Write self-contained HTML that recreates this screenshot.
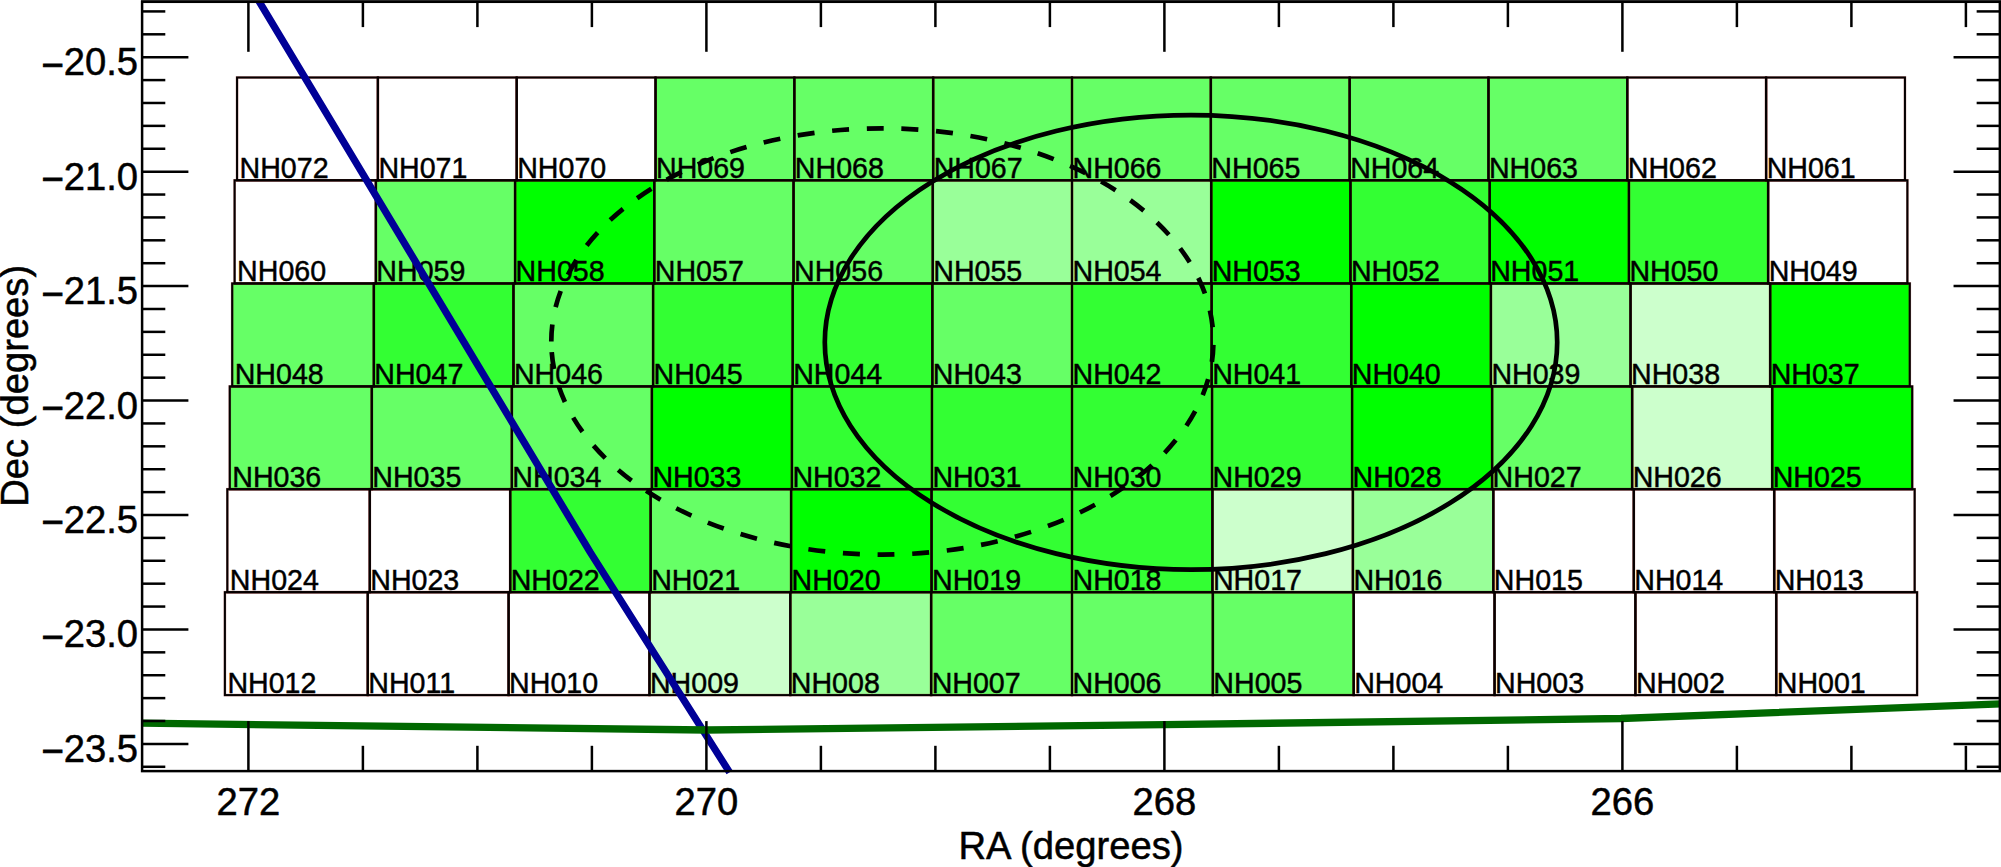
<!DOCTYPE html>
<html><head><meta charset="utf-8"><title>Field map</title>
<style>html,body{margin:0;padding:0;background:#fff;overflow:hidden}svg{display:block}</style>
</head><body>
<svg width="2001" height="867" viewBox="0 0 2001 867">
<rect width="2001" height="867" fill="#fff"/>
<rect x="655.52" y="77.50" width="138.83" height="102.80" fill="#66ff66"/>
<rect x="794.35" y="77.50" width="138.83" height="102.80" fill="#66ff66"/>
<rect x="933.17" y="77.50" width="138.83" height="102.80" fill="#66ff66"/>
<rect x="1072.00" y="77.50" width="138.82" height="102.80" fill="#66ff66"/>
<rect x="1210.82" y="77.50" width="138.83" height="102.80" fill="#66ff66"/>
<rect x="1349.65" y="77.50" width="138.82" height="102.80" fill="#66ff66"/>
<rect x="1488.47" y="77.50" width="138.83" height="102.80" fill="#66ff66"/>
<rect x="375.85" y="180.30" width="139.23" height="103.15" fill="#66ff66"/>
<rect x="515.08" y="180.30" width="139.23" height="103.15" fill="#00ff00"/>
<rect x="654.31" y="180.30" width="139.23" height="103.15" fill="#66ff66"/>
<rect x="793.54" y="180.30" width="139.23" height="103.15" fill="#66ff66"/>
<rect x="932.77" y="180.30" width="139.23" height="103.15" fill="#99ff99"/>
<rect x="1072.00" y="180.30" width="139.23" height="103.15" fill="#99ff99"/>
<rect x="1211.23" y="180.30" width="139.23" height="103.15" fill="#00ff00"/>
<rect x="1350.46" y="180.30" width="139.23" height="103.15" fill="#33ff33"/>
<rect x="1489.69" y="180.30" width="139.23" height="103.15" fill="#00ff00"/>
<rect x="1628.92" y="180.30" width="139.23" height="103.15" fill="#33ff33"/>
<rect x="232.19" y="283.45" width="141.64" height="102.95" fill="#66ff66"/>
<rect x="373.83" y="283.45" width="139.63" height="102.95" fill="#33ff33"/>
<rect x="513.46" y="283.45" width="139.63" height="102.95" fill="#66ff66"/>
<rect x="653.10" y="283.45" width="139.63" height="102.95" fill="#33ff33"/>
<rect x="792.73" y="283.45" width="139.63" height="102.95" fill="#33ff33"/>
<rect x="932.37" y="283.45" width="139.63" height="102.95" fill="#66ff66"/>
<rect x="1072.00" y="283.45" width="139.63" height="102.95" fill="#33ff33"/>
<rect x="1211.63" y="283.45" width="139.63" height="102.95" fill="#33ff33"/>
<rect x="1351.27" y="283.45" width="139.63" height="102.95" fill="#00ff00"/>
<rect x="1490.90" y="283.45" width="139.63" height="102.95" fill="#99ff99"/>
<rect x="1630.54" y="283.45" width="139.63" height="102.95" fill="#ccffcc"/>
<rect x="1770.17" y="283.45" width="139.63" height="102.95" fill="#00ff00"/>
<rect x="229.76" y="386.40" width="142.04" height="102.80" fill="#66ff66"/>
<rect x="371.80" y="386.40" width="140.04" height="102.80" fill="#66ff66"/>
<rect x="511.84" y="386.40" width="140.04" height="102.80" fill="#66ff66"/>
<rect x="651.88" y="386.40" width="140.04" height="102.80" fill="#00ff00"/>
<rect x="791.92" y="386.40" width="140.04" height="102.80" fill="#33ff33"/>
<rect x="931.96" y="386.40" width="140.04" height="102.80" fill="#33ff33"/>
<rect x="1072.00" y="386.40" width="140.04" height="102.80" fill="#33ff33"/>
<rect x="1212.04" y="386.40" width="140.04" height="102.80" fill="#33ff33"/>
<rect x="1352.08" y="386.40" width="140.04" height="102.80" fill="#00ff00"/>
<rect x="1492.12" y="386.40" width="140.04" height="102.80" fill="#66ff66"/>
<rect x="1632.16" y="386.40" width="140.04" height="102.80" fill="#ccffcc"/>
<rect x="1772.20" y="386.40" width="140.04" height="102.80" fill="#00ff00"/>
<rect x="510.22" y="489.20" width="140.45" height="103.00" fill="#33ff33"/>
<rect x="650.66" y="489.20" width="140.44" height="103.00" fill="#66ff66"/>
<rect x="791.11" y="489.20" width="140.45" height="103.00" fill="#00ff00"/>
<rect x="931.55" y="489.20" width="140.45" height="103.00" fill="#33ff33"/>
<rect x="1072.00" y="489.20" width="140.44" height="103.00" fill="#33ff33"/>
<rect x="1212.44" y="489.20" width="140.44" height="103.00" fill="#ccffcc"/>
<rect x="1352.89" y="489.20" width="140.45" height="103.00" fill="#99ff99"/>
<rect x="649.45" y="592.20" width="140.85" height="102.90" fill="#ccffcc"/>
<rect x="790.30" y="592.20" width="140.85" height="102.90" fill="#99ff99"/>
<rect x="931.15" y="592.20" width="140.85" height="102.90" fill="#66ff66"/>
<rect x="1072.00" y="592.20" width="140.85" height="102.90" fill="#66ff66"/>
<rect x="1212.85" y="592.20" width="140.85" height="102.90" fill="#66ff66"/>
<g fill="none" stroke="#7a0000" stroke-opacity="0.45" stroke-width="2.6">
<rect x="237.05" y="77.50" width="140.82" height="102.80"/>
<rect x="377.87" y="77.50" width="138.83" height="102.80"/>
<rect x="516.70" y="77.50" width="138.83" height="102.80"/>
<rect x="655.52" y="77.50" width="138.83" height="102.80"/>
<rect x="794.35" y="77.50" width="138.83" height="102.80"/>
<rect x="933.17" y="77.50" width="138.83" height="102.80"/>
<rect x="1072.00" y="77.50" width="138.82" height="102.80"/>
<rect x="1210.82" y="77.50" width="138.83" height="102.80"/>
<rect x="1349.65" y="77.50" width="138.82" height="102.80"/>
<rect x="1488.47" y="77.50" width="138.83" height="102.80"/>
<rect x="1627.30" y="77.50" width="138.83" height="102.80"/>
<rect x="1766.12" y="77.50" width="138.83" height="102.80"/>
<rect x="234.62" y="180.30" width="141.23" height="103.15"/>
<rect x="375.85" y="180.30" width="139.23" height="103.15"/>
<rect x="515.08" y="180.30" width="139.23" height="103.15"/>
<rect x="654.31" y="180.30" width="139.23" height="103.15"/>
<rect x="793.54" y="180.30" width="139.23" height="103.15"/>
<rect x="932.77" y="180.30" width="139.23" height="103.15"/>
<rect x="1072.00" y="180.30" width="139.23" height="103.15"/>
<rect x="1211.23" y="180.30" width="139.23" height="103.15"/>
<rect x="1350.46" y="180.30" width="139.23" height="103.15"/>
<rect x="1489.69" y="180.30" width="139.23" height="103.15"/>
<rect x="1628.92" y="180.30" width="139.23" height="103.15"/>
<rect x="1768.15" y="180.30" width="139.23" height="103.15"/>
<rect x="232.19" y="283.45" width="141.64" height="102.95"/>
<rect x="373.83" y="283.45" width="139.63" height="102.95"/>
<rect x="513.46" y="283.45" width="139.63" height="102.95"/>
<rect x="653.10" y="283.45" width="139.63" height="102.95"/>
<rect x="792.73" y="283.45" width="139.63" height="102.95"/>
<rect x="932.37" y="283.45" width="139.63" height="102.95"/>
<rect x="1072.00" y="283.45" width="139.63" height="102.95"/>
<rect x="1211.63" y="283.45" width="139.63" height="102.95"/>
<rect x="1351.27" y="283.45" width="139.63" height="102.95"/>
<rect x="1490.90" y="283.45" width="139.63" height="102.95"/>
<rect x="1630.54" y="283.45" width="139.63" height="102.95"/>
<rect x="1770.17" y="283.45" width="139.63" height="102.95"/>
<rect x="229.76" y="386.40" width="142.04" height="102.80"/>
<rect x="371.80" y="386.40" width="140.04" height="102.80"/>
<rect x="511.84" y="386.40" width="140.04" height="102.80"/>
<rect x="651.88" y="386.40" width="140.04" height="102.80"/>
<rect x="791.92" y="386.40" width="140.04" height="102.80"/>
<rect x="931.96" y="386.40" width="140.04" height="102.80"/>
<rect x="1072.00" y="386.40" width="140.04" height="102.80"/>
<rect x="1212.04" y="386.40" width="140.04" height="102.80"/>
<rect x="1352.08" y="386.40" width="140.04" height="102.80"/>
<rect x="1492.12" y="386.40" width="140.04" height="102.80"/>
<rect x="1632.16" y="386.40" width="140.04" height="102.80"/>
<rect x="1772.20" y="386.40" width="140.04" height="102.80"/>
<rect x="227.33" y="489.20" width="142.44" height="103.00"/>
<rect x="369.77" y="489.20" width="140.44" height="103.00"/>
<rect x="510.22" y="489.20" width="140.45" height="103.00"/>
<rect x="650.66" y="489.20" width="140.44" height="103.00"/>
<rect x="791.11" y="489.20" width="140.45" height="103.00"/>
<rect x="931.55" y="489.20" width="140.45" height="103.00"/>
<rect x="1072.00" y="489.20" width="140.44" height="103.00"/>
<rect x="1212.44" y="489.20" width="140.44" height="103.00"/>
<rect x="1352.89" y="489.20" width="140.45" height="103.00"/>
<rect x="1493.34" y="489.20" width="140.44" height="103.00"/>
<rect x="1633.78" y="489.20" width="140.45" height="103.00"/>
<rect x="1774.23" y="489.20" width="140.44" height="103.00"/>
<rect x="224.90" y="592.20" width="142.85" height="102.90"/>
<rect x="367.75" y="592.20" width="140.85" height="102.90"/>
<rect x="508.60" y="592.20" width="140.85" height="102.90"/>
<rect x="649.45" y="592.20" width="140.85" height="102.90"/>
<rect x="790.30" y="592.20" width="140.85" height="102.90"/>
<rect x="931.15" y="592.20" width="140.85" height="102.90"/>
<rect x="1072.00" y="592.20" width="140.85" height="102.90"/>
<rect x="1212.85" y="592.20" width="140.85" height="102.90"/>
<rect x="1353.70" y="592.20" width="140.85" height="102.90"/>
<rect x="1494.55" y="592.20" width="140.85" height="102.90"/>
<rect x="1635.40" y="592.20" width="140.85" height="102.90"/>
<rect x="1776.25" y="592.20" width="140.85" height="102.90"/>
</g>
<g fill="none" stroke="#050000" stroke-width="2.0">
<rect x="237.05" y="77.50" width="140.82" height="102.80"/>
<rect x="377.87" y="77.50" width="138.83" height="102.80"/>
<rect x="516.70" y="77.50" width="138.83" height="102.80"/>
<rect x="655.52" y="77.50" width="138.83" height="102.80"/>
<rect x="794.35" y="77.50" width="138.83" height="102.80"/>
<rect x="933.17" y="77.50" width="138.83" height="102.80"/>
<rect x="1072.00" y="77.50" width="138.82" height="102.80"/>
<rect x="1210.82" y="77.50" width="138.83" height="102.80"/>
<rect x="1349.65" y="77.50" width="138.82" height="102.80"/>
<rect x="1488.47" y="77.50" width="138.83" height="102.80"/>
<rect x="1627.30" y="77.50" width="138.83" height="102.80"/>
<rect x="1766.12" y="77.50" width="138.83" height="102.80"/>
<rect x="234.62" y="180.30" width="141.23" height="103.15"/>
<rect x="375.85" y="180.30" width="139.23" height="103.15"/>
<rect x="515.08" y="180.30" width="139.23" height="103.15"/>
<rect x="654.31" y="180.30" width="139.23" height="103.15"/>
<rect x="793.54" y="180.30" width="139.23" height="103.15"/>
<rect x="932.77" y="180.30" width="139.23" height="103.15"/>
<rect x="1072.00" y="180.30" width="139.23" height="103.15"/>
<rect x="1211.23" y="180.30" width="139.23" height="103.15"/>
<rect x="1350.46" y="180.30" width="139.23" height="103.15"/>
<rect x="1489.69" y="180.30" width="139.23" height="103.15"/>
<rect x="1628.92" y="180.30" width="139.23" height="103.15"/>
<rect x="1768.15" y="180.30" width="139.23" height="103.15"/>
<rect x="232.19" y="283.45" width="141.64" height="102.95"/>
<rect x="373.83" y="283.45" width="139.63" height="102.95"/>
<rect x="513.46" y="283.45" width="139.63" height="102.95"/>
<rect x="653.10" y="283.45" width="139.63" height="102.95"/>
<rect x="792.73" y="283.45" width="139.63" height="102.95"/>
<rect x="932.37" y="283.45" width="139.63" height="102.95"/>
<rect x="1072.00" y="283.45" width="139.63" height="102.95"/>
<rect x="1211.63" y="283.45" width="139.63" height="102.95"/>
<rect x="1351.27" y="283.45" width="139.63" height="102.95"/>
<rect x="1490.90" y="283.45" width="139.63" height="102.95"/>
<rect x="1630.54" y="283.45" width="139.63" height="102.95"/>
<rect x="1770.17" y="283.45" width="139.63" height="102.95"/>
<rect x="229.76" y="386.40" width="142.04" height="102.80"/>
<rect x="371.80" y="386.40" width="140.04" height="102.80"/>
<rect x="511.84" y="386.40" width="140.04" height="102.80"/>
<rect x="651.88" y="386.40" width="140.04" height="102.80"/>
<rect x="791.92" y="386.40" width="140.04" height="102.80"/>
<rect x="931.96" y="386.40" width="140.04" height="102.80"/>
<rect x="1072.00" y="386.40" width="140.04" height="102.80"/>
<rect x="1212.04" y="386.40" width="140.04" height="102.80"/>
<rect x="1352.08" y="386.40" width="140.04" height="102.80"/>
<rect x="1492.12" y="386.40" width="140.04" height="102.80"/>
<rect x="1632.16" y="386.40" width="140.04" height="102.80"/>
<rect x="1772.20" y="386.40" width="140.04" height="102.80"/>
<rect x="227.33" y="489.20" width="142.44" height="103.00"/>
<rect x="369.77" y="489.20" width="140.44" height="103.00"/>
<rect x="510.22" y="489.20" width="140.45" height="103.00"/>
<rect x="650.66" y="489.20" width="140.44" height="103.00"/>
<rect x="791.11" y="489.20" width="140.45" height="103.00"/>
<rect x="931.55" y="489.20" width="140.45" height="103.00"/>
<rect x="1072.00" y="489.20" width="140.44" height="103.00"/>
<rect x="1212.44" y="489.20" width="140.44" height="103.00"/>
<rect x="1352.89" y="489.20" width="140.45" height="103.00"/>
<rect x="1493.34" y="489.20" width="140.44" height="103.00"/>
<rect x="1633.78" y="489.20" width="140.45" height="103.00"/>
<rect x="1774.23" y="489.20" width="140.44" height="103.00"/>
<rect x="224.90" y="592.20" width="142.85" height="102.90"/>
<rect x="367.75" y="592.20" width="140.85" height="102.90"/>
<rect x="508.60" y="592.20" width="140.85" height="102.90"/>
<rect x="649.45" y="592.20" width="140.85" height="102.90"/>
<rect x="790.30" y="592.20" width="140.85" height="102.90"/>
<rect x="931.15" y="592.20" width="140.85" height="102.90"/>
<rect x="1072.00" y="592.20" width="140.85" height="102.90"/>
<rect x="1212.85" y="592.20" width="140.85" height="102.90"/>
<rect x="1353.70" y="592.20" width="140.85" height="102.90"/>
<rect x="1494.55" y="592.20" width="140.85" height="102.90"/>
<rect x="1635.40" y="592.20" width="140.85" height="102.90"/>
<rect x="1776.25" y="592.20" width="140.85" height="102.90"/>
</g>
<g font-family="'Liberation Sans', sans-serif" font-size="28.6" fill="#000" stroke="#000" stroke-width="0.45">
<text x="239.55" y="177.90">NH072</text>
<text x="378.38" y="177.90">NH071</text>
<text x="517.20" y="177.90">NH070</text>
<text x="656.02" y="177.90">NH069</text>
<text x="794.85" y="177.90">NH068</text>
<text x="933.68" y="177.90">NH067</text>
<text x="1072.50" y="177.90">NH066</text>
<text x="1211.33" y="177.90">NH065</text>
<text x="1350.15" y="177.90">NH064</text>
<text x="1488.98" y="177.90">NH063</text>
<text x="1627.80" y="177.90">NH062</text>
<text x="1766.63" y="177.90">NH061</text>
<text x="237.12" y="281.05">NH060</text>
<text x="376.35" y="281.05">NH059</text>
<text x="515.58" y="281.05">NH058</text>
<text x="654.81" y="281.05">NH057</text>
<text x="794.04" y="281.05">NH056</text>
<text x="933.27" y="281.05">NH055</text>
<text x="1072.50" y="281.05">NH054</text>
<text x="1211.73" y="281.05">NH053</text>
<text x="1350.96" y="281.05">NH052</text>
<text x="1490.19" y="281.05">NH051</text>
<text x="1629.42" y="281.05">NH050</text>
<text x="1768.65" y="281.05">NH049</text>
<text x="234.69" y="384.00">NH048</text>
<text x="374.32" y="384.00">NH047</text>
<text x="513.96" y="384.00">NH046</text>
<text x="653.59" y="384.00">NH045</text>
<text x="793.23" y="384.00">NH044</text>
<text x="932.86" y="384.00">NH043</text>
<text x="1072.50" y="384.00">NH042</text>
<text x="1212.13" y="384.00">NH041</text>
<text x="1351.77" y="384.00">NH040</text>
<text x="1491.40" y="384.00">NH039</text>
<text x="1631.04" y="384.00">NH038</text>
<text x="1770.67" y="384.00">NH037</text>
<text x="232.26" y="486.80">NH036</text>
<text x="372.30" y="486.80">NH035</text>
<text x="512.34" y="486.80">NH034</text>
<text x="652.38" y="486.80">NH033</text>
<text x="792.42" y="486.80">NH032</text>
<text x="932.46" y="486.80">NH031</text>
<text x="1072.50" y="486.80">NH030</text>
<text x="1212.54" y="486.80">NH029</text>
<text x="1352.58" y="486.80">NH028</text>
<text x="1492.62" y="486.80">NH027</text>
<text x="1632.66" y="486.80">NH026</text>
<text x="1772.70" y="486.80">NH025</text>
<text x="229.83" y="589.80">NH024</text>
<text x="370.27" y="589.80">NH023</text>
<text x="510.72" y="589.80">NH022</text>
<text x="651.16" y="589.80">NH021</text>
<text x="791.61" y="589.80">NH020</text>
<text x="932.06" y="589.80">NH019</text>
<text x="1072.50" y="589.80">NH018</text>
<text x="1212.95" y="589.80">NH017</text>
<text x="1353.39" y="589.80">NH016</text>
<text x="1493.84" y="589.80">NH015</text>
<text x="1634.28" y="589.80">NH014</text>
<text x="1774.73" y="589.80">NH013</text>
<text x="227.40" y="692.70">NH012</text>
<text x="368.25" y="692.70">NH011</text>
<text x="509.10" y="692.70">NH010</text>
<text x="649.95" y="692.70">NH009</text>
<text x="790.80" y="692.70">NH008</text>
<text x="931.65" y="692.70">NH007</text>
<text x="1072.50" y="692.70">NH006</text>
<text x="1213.35" y="692.70">NH005</text>
<text x="1354.20" y="692.70">NH004</text>
<text x="1495.05" y="692.70">NH003</text>
<text x="1635.90" y="692.70">NH002</text>
<text x="1776.75" y="692.70">NH001</text>
</g>
<polyline points="256.45,-3 590.3,552.4 729.6,772.4" fill="none" stroke="#000097" stroke-width="7.2" stroke-linejoin="round"/>
<polyline points="141.3,723.2 706.4,730.0 1164.5,724.7 1621,718.5 2001,703.8" fill="none" stroke="#006800" stroke-width="7.3" stroke-linejoin="round"/>
<ellipse cx="1191.0" cy="342.35" rx="366.2" ry="227.25" fill="none" stroke="#000" stroke-width="4.7"/>
<path d="M551.30,341.45 A331.05,213.15 0 1 1 1213.40,341.45 A331.05,213.15 0 1 1 551.30,341.45" fill="none" stroke="#000" stroke-width="4.7" stroke-dasharray="17 17.72"/>
<rect x="141" y="0" width="1860" height="1" fill="#4a4a4a"/>
<g stroke="#000" stroke-width="2.5" fill="none">
<rect x="142.1" y="1.8" width="1857.75" height="769.3000000000001"/>
<line x1="248.40" y1="771.1" x2="248.40" y2="721.1"/>
<line x1="248.40" y1="1.8" x2="248.40" y2="51.8"/>
<line x1="362.90" y1="771.1" x2="362.90" y2="745.8000000000001"/>
<line x1="362.90" y1="1.8" x2="362.90" y2="27.1"/>
<line x1="477.40" y1="771.1" x2="477.40" y2="745.8000000000001"/>
<line x1="477.40" y1="1.8" x2="477.40" y2="27.1"/>
<line x1="591.90" y1="771.1" x2="591.90" y2="745.8000000000001"/>
<line x1="591.90" y1="1.8" x2="591.90" y2="27.1"/>
<line x1="706.40" y1="771.1" x2="706.40" y2="721.1"/>
<line x1="706.40" y1="1.8" x2="706.40" y2="51.8"/>
<line x1="820.90" y1="771.1" x2="820.90" y2="745.8000000000001"/>
<line x1="820.90" y1="1.8" x2="820.90" y2="27.1"/>
<line x1="935.40" y1="771.1" x2="935.40" y2="745.8000000000001"/>
<line x1="935.40" y1="1.8" x2="935.40" y2="27.1"/>
<line x1="1049.90" y1="771.1" x2="1049.90" y2="745.8000000000001"/>
<line x1="1049.90" y1="1.8" x2="1049.90" y2="27.1"/>
<line x1="1164.40" y1="771.1" x2="1164.40" y2="721.1"/>
<line x1="1164.40" y1="1.8" x2="1164.40" y2="51.8"/>
<line x1="1278.90" y1="771.1" x2="1278.90" y2="745.8000000000001"/>
<line x1="1278.90" y1="1.8" x2="1278.90" y2="27.1"/>
<line x1="1393.40" y1="771.1" x2="1393.40" y2="745.8000000000001"/>
<line x1="1393.40" y1="1.8" x2="1393.40" y2="27.1"/>
<line x1="1507.90" y1="771.1" x2="1507.90" y2="745.8000000000001"/>
<line x1="1507.90" y1="1.8" x2="1507.90" y2="27.1"/>
<line x1="1622.40" y1="771.1" x2="1622.40" y2="721.1"/>
<line x1="1622.40" y1="1.8" x2="1622.40" y2="51.8"/>
<line x1="1736.90" y1="771.1" x2="1736.90" y2="745.8000000000001"/>
<line x1="1736.90" y1="1.8" x2="1736.90" y2="27.1"/>
<line x1="1851.40" y1="771.1" x2="1851.40" y2="745.8000000000001"/>
<line x1="1851.40" y1="1.8" x2="1851.40" y2="27.1"/>
<line x1="1965.90" y1="771.1" x2="1965.90" y2="745.8000000000001"/>
<line x1="1965.90" y1="1.8" x2="1965.90" y2="27.1"/>
<line x1="142.1" y1="11.42" x2="165.29999999999998" y2="11.42"/>
<line x1="1999.85" y1="11.42" x2="1976.6499999999999" y2="11.42"/>
<line x1="142.1" y1="34.31" x2="165.29999999999998" y2="34.31"/>
<line x1="1999.85" y1="34.31" x2="1976.6499999999999" y2="34.31"/>
<line x1="142.1" y1="57.20" x2="188.39999999999998" y2="57.20"/>
<line x1="1999.85" y1="57.20" x2="1953.55" y2="57.20"/>
<line x1="142.1" y1="80.09" x2="165.29999999999998" y2="80.09"/>
<line x1="1999.85" y1="80.09" x2="1976.6499999999999" y2="80.09"/>
<line x1="142.1" y1="102.98" x2="165.29999999999998" y2="102.98"/>
<line x1="1999.85" y1="102.98" x2="1976.6499999999999" y2="102.98"/>
<line x1="142.1" y1="125.87" x2="165.29999999999998" y2="125.87"/>
<line x1="1999.85" y1="125.87" x2="1976.6499999999999" y2="125.87"/>
<line x1="142.1" y1="148.76" x2="165.29999999999998" y2="148.76"/>
<line x1="1999.85" y1="148.76" x2="1976.6499999999999" y2="148.76"/>
<line x1="142.1" y1="171.65" x2="188.39999999999998" y2="171.65"/>
<line x1="1999.85" y1="171.65" x2="1953.55" y2="171.65"/>
<line x1="142.1" y1="194.54" x2="165.29999999999998" y2="194.54"/>
<line x1="1999.85" y1="194.54" x2="1976.6499999999999" y2="194.54"/>
<line x1="142.1" y1="217.43" x2="165.29999999999998" y2="217.43"/>
<line x1="1999.85" y1="217.43" x2="1976.6499999999999" y2="217.43"/>
<line x1="142.1" y1="240.32" x2="165.29999999999998" y2="240.32"/>
<line x1="1999.85" y1="240.32" x2="1976.6499999999999" y2="240.32"/>
<line x1="142.1" y1="263.21" x2="165.29999999999998" y2="263.21"/>
<line x1="1999.85" y1="263.21" x2="1976.6499999999999" y2="263.21"/>
<line x1="142.1" y1="286.10" x2="188.39999999999998" y2="286.10"/>
<line x1="1999.85" y1="286.10" x2="1953.55" y2="286.10"/>
<line x1="142.1" y1="308.99" x2="165.29999999999998" y2="308.99"/>
<line x1="1999.85" y1="308.99" x2="1976.6499999999999" y2="308.99"/>
<line x1="142.1" y1="331.88" x2="165.29999999999998" y2="331.88"/>
<line x1="1999.85" y1="331.88" x2="1976.6499999999999" y2="331.88"/>
<line x1="142.1" y1="354.77" x2="165.29999999999998" y2="354.77"/>
<line x1="1999.85" y1="354.77" x2="1976.6499999999999" y2="354.77"/>
<line x1="142.1" y1="377.66" x2="165.29999999999998" y2="377.66"/>
<line x1="1999.85" y1="377.66" x2="1976.6499999999999" y2="377.66"/>
<line x1="142.1" y1="400.55" x2="188.39999999999998" y2="400.55"/>
<line x1="1999.85" y1="400.55" x2="1953.55" y2="400.55"/>
<line x1="142.1" y1="423.44" x2="165.29999999999998" y2="423.44"/>
<line x1="1999.85" y1="423.44" x2="1976.6499999999999" y2="423.44"/>
<line x1="142.1" y1="446.33" x2="165.29999999999998" y2="446.33"/>
<line x1="1999.85" y1="446.33" x2="1976.6499999999999" y2="446.33"/>
<line x1="142.1" y1="469.22" x2="165.29999999999998" y2="469.22"/>
<line x1="1999.85" y1="469.22" x2="1976.6499999999999" y2="469.22"/>
<line x1="142.1" y1="492.11" x2="165.29999999999998" y2="492.11"/>
<line x1="1999.85" y1="492.11" x2="1976.6499999999999" y2="492.11"/>
<line x1="142.1" y1="515.00" x2="188.39999999999998" y2="515.00"/>
<line x1="1999.85" y1="515.00" x2="1953.55" y2="515.00"/>
<line x1="142.1" y1="537.89" x2="165.29999999999998" y2="537.89"/>
<line x1="1999.85" y1="537.89" x2="1976.6499999999999" y2="537.89"/>
<line x1="142.1" y1="560.78" x2="165.29999999999998" y2="560.78"/>
<line x1="1999.85" y1="560.78" x2="1976.6499999999999" y2="560.78"/>
<line x1="142.1" y1="583.67" x2="165.29999999999998" y2="583.67"/>
<line x1="1999.85" y1="583.67" x2="1976.6499999999999" y2="583.67"/>
<line x1="142.1" y1="606.56" x2="165.29999999999998" y2="606.56"/>
<line x1="1999.85" y1="606.56" x2="1976.6499999999999" y2="606.56"/>
<line x1="142.1" y1="629.45" x2="188.39999999999998" y2="629.45"/>
<line x1="1999.85" y1="629.45" x2="1953.55" y2="629.45"/>
<line x1="142.1" y1="652.34" x2="165.29999999999998" y2="652.34"/>
<line x1="1999.85" y1="652.34" x2="1976.6499999999999" y2="652.34"/>
<line x1="142.1" y1="675.23" x2="165.29999999999998" y2="675.23"/>
<line x1="1999.85" y1="675.23" x2="1976.6499999999999" y2="675.23"/>
<line x1="142.1" y1="698.12" x2="165.29999999999998" y2="698.12"/>
<line x1="1999.85" y1="698.12" x2="1976.6499999999999" y2="698.12"/>
<line x1="142.1" y1="721.01" x2="165.29999999999998" y2="721.01"/>
<line x1="1999.85" y1="721.01" x2="1976.6499999999999" y2="721.01"/>
<line x1="142.1" y1="743.90" x2="188.39999999999998" y2="743.90"/>
<line x1="1999.85" y1="743.90" x2="1953.55" y2="743.90"/>
<line x1="142.1" y1="766.79" x2="165.29999999999998" y2="766.79"/>
<line x1="1999.85" y1="766.79" x2="1976.6499999999999" y2="766.79"/>
</g>
<g font-family="'Liberation Sans', sans-serif" font-size="38.2" fill="#000" stroke="#000" stroke-width="0.5">
<text x="137.3" y="75.20" text-anchor="end"><tspan dy="2.4" dx="0.8" stroke-width="0.95">−</tspan><tspan dy="-2.4">20.5</tspan></text>
<text x="137.3" y="189.65" text-anchor="end"><tspan dy="2.4" dx="0.8" stroke-width="0.95">−</tspan><tspan dy="-2.4">21.0</tspan></text>
<text x="137.3" y="304.10" text-anchor="end"><tspan dy="2.4" dx="0.8" stroke-width="0.95">−</tspan><tspan dy="-2.4">21.5</tspan></text>
<text x="137.3" y="418.55" text-anchor="end"><tspan dy="2.4" dx="0.8" stroke-width="0.95">−</tspan><tspan dy="-2.4">22.0</tspan></text>
<text x="137.3" y="533.00" text-anchor="end"><tspan dy="2.4" dx="0.8" stroke-width="0.95">−</tspan><tspan dy="-2.4">22.5</tspan></text>
<text x="137.3" y="647.45" text-anchor="end"><tspan dy="2.4" dx="0.8" stroke-width="0.95">−</tspan><tspan dy="-2.4">23.0</tspan></text>
<text x="137.3" y="761.90" text-anchor="end"><tspan dy="2.4" dx="0.8" stroke-width="0.95">−</tspan><tspan dy="-2.4">23.5</tspan></text>
<text x="248.40" y="815.1" text-anchor="middle">272</text>
<text x="706.40" y="815.1" text-anchor="middle">270</text>
<text x="1164.40" y="815.1" text-anchor="middle">268</text>
<text x="1622.40" y="815.1" text-anchor="middle">266</text>
<text x="1071" y="858.9" text-anchor="middle">RA (degrees)</text>
<text transform="translate(28.4 385.8) rotate(-90)" text-anchor="middle">Dec (degrees)</text>
</g>
</svg>
</body></html>
